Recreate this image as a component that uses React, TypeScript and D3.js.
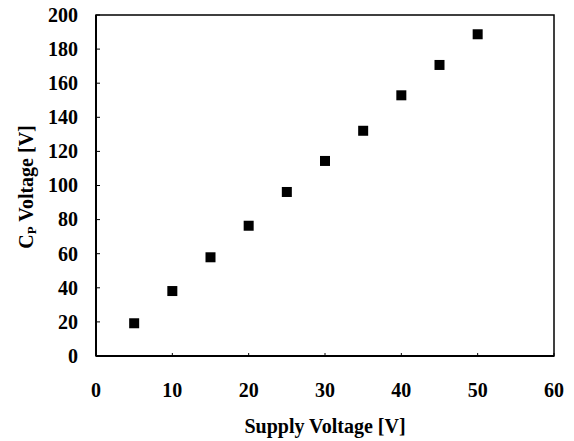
import React from "react";
import * as d3 from "d3";

const supplyVoltage = [5, 10, 15, 20, 25, 30, 35, 40, 45, 50];
const cpVoltage = [19.2, 38.1, 57.9, 76.4, 96.2, 114.4, 132.1, 152.9, 170.7, 188.7];
const xTicks = [0, 10, 20, 30, 40, 50, 60];
const yTicks = [0, 20, 40, 60, 80, 100, 120, 140, 160, 180, 200];

const W = 574;
const H = 441;
const left = 96, right = 554, top = 15, bottom = 356;

export default function App() {
  const x = d3.scaleLinear().domain([0, 60]).range([left, right]);
  const y = d3.scaleLinear().domain([0, 200]).range([bottom, top]);
  const font = "'Liberation Serif', 'Times New Roman', serif";
  const ms = 10;
  return (
    <svg width={W} height={H} style={{ position: "absolute", left: 0, top: 0, background: "#fff" }}>
      <rect x={0} y={0} width={W} height={H} fill="#fff" />
      <rect x={left} y={top} width={right - left} height={bottom - top} fill="none" stroke="#000" strokeWidth={1.5} />
      <line x1={left} x2={left} y1={top} y2={bottom} stroke="#000" strokeWidth={2} />
      <line x1={left} x2={right} y1={bottom} y2={bottom} stroke="#000" strokeWidth={2} />
      {yTicks.map((t) => (
        <g key={"y" + t}>
          <line x1={left} x2={left + 4} y1={y(t)} y2={y(t)} stroke="#000" strokeWidth={1} />
          <text x={78} y={y(t) + 6.8} textAnchor="end" fontFamily={font} fontWeight="bold" fontSize={20}>
            {t}
          </text>
        </g>
      ))}
      {xTicks.map((t) => (
        <g key={"x" + t}>
          <line x1={x(t)} x2={x(t)} y1={bottom} y2={bottom - 3} stroke="#000" strokeWidth={1} />
          <text x={x(t)} y={396.5} textAnchor="middle" fontFamily={font} fontWeight="bold" fontSize={20}>
            {t}
          </text>
        </g>
      ))}
      {supplyVoltage.map((v, i) => (
        <rect key={"p" + i} x={x(v) - ms / 2} y={y(cpVoltage[i]) - ms / 2} width={ms} height={ms} fill="#000" />
      ))}
      <text x={325} y={433} textAnchor="middle" fontFamily={font} fontWeight="bold" fontSize={20}>
        Supply Voltage [V]
      </text>
      <text
        transform={`translate(33, 187) rotate(-90)`}
        textAnchor="middle"
        fontFamily={font}
        fontWeight="bold"
        fontSize={20}
      >
        C<tspan fontSize={13} dy={3}>P</tspan><tspan dy={-3}> Voltage [V]</tspan>
      </text>
    </svg>
  );
}
